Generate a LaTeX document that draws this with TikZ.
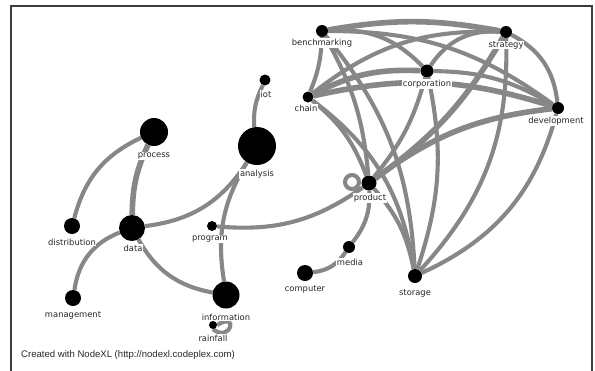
\documentclass[tikz,border=0pt]{standalone}
\usepackage{fontspec}
\newfontfamily\lblfont{DejaVu Sans}
\newfontfamily\credfont{Liberation Sans}
\usetikzlibrary{backgrounds}
\definecolor{edgegray}{RGB}{135,135,135}
\definecolor{framegray}{RGB}{60,60,60}
\tikzset{
  dot/.style={circle,fill=black,inner sep=0pt,minimum size=#1},
  lbl/.style={font=\lblfont\fontsize{8.4}{9}\selectfont,fill=white,inner sep=0.6bp,text=black!85},
  conn/.style={draw=edgegray,line width=4.1bp},
  heavy/.style={draw=edgegray,line width=5.6bp},
}
\begin{document}
\begin{tikzpicture}[x=1bp,y=-1bp]
\useasboundingbox (0,0) rectangle (595,370);
\draw[framegray,line width=1.6bp] (11,6) rectangle (592,385);
% dots
\node[dot=12bp] (benchmarking) at (322,31) {};
\node[dot=12bp] (strategy) at (506,32) {};
\node[dot=13bp] (corporation) at (427,71) {};
\node[dot=11bp] (chain) at (308,97) {};
\node[dot=12bp] (development) at (558,108) {};
\node[dot=15bp] (product) at (369,183) {};
\node[dot=11bp] (iot) at (265,80) {};
\node[dot=38bp] (analysis) at (257,146) {};
\node[dot=28bp] (process) at (154,132) {};
\node[dot=16bp] (distribution) at (72,226) {};
\node[dot=26bp] (data) at (132,228) {};
\node[dot=10bp] (program) at (212,226) {};
\node[dot=16bp] (management) at (73,298) {};
\node[dot=27bp] (information) at (226,295) {};
\node[dot=8bp] (rainfall) at (213,325) {};
\node[dot=12bp] (media) at (349,247) {};
\node[dot=16bp] (computer) at (305,273) {};
\node[dot=14bp] (storage) at (415,276) {};
% edges
\begin{pgfonlayer}{background}
\draw[conn] (process) to[bend right=25] (distribution);
\draw[heavy] (process) to[bend right=12] (data);
\draw[conn] (data) to[bend right=25] (analysis);
\draw[conn] (data) to[bend right=30] (management);
\draw[conn] (data) to[bend right=25] (information);
\draw[conn] (iot) to[bend right=15] (analysis);
\draw[conn] (analysis) to[bend right=20] (information);
\draw[conn] (program) to[bend right=20] (product);
\draw[conn] (product) to[bend left=20] (media);
\draw[conn] (media) to[bend left=25] (computer);
\draw[conn] (rainfall.east) .. controls +(22,-14) and +(18,14) .. (rainfall.south);
\draw[conn] (product) ++(-17,-1) circle[radius=7bp];
% clique
\draw[heavy] (benchmarking) to[bend left=10] (strategy);
\draw[conn] (benchmarking) to[bend left=18] (development);
\draw[conn] (benchmarking) to[bend left=25] (corporation);
\draw[conn] (benchmarking) to[bend left=10] (chain);
\draw[conn] (benchmarking) to[bend left=12] (product);
\draw[conn] (benchmarking) to[bend left=18] (storage);
\draw[conn] (strategy) to[bend right=20] (chain);
\draw[conn] (strategy) to[bend right=30] (corporation);
\draw[conn] (strategy) to[bend left=28] (development);
\draw[heavy] (strategy) to[bend left=12] (product);
\draw[conn] (strategy) to[bend left=22] (storage);
\draw[heavy] (corporation) to[bend right=15] (chain);
\draw[conn] (corporation) to[bend left=15] (development);
\draw[conn] (corporation) to[bend left=12] (product);
\draw[conn] (corporation) to[bend left=15] (storage);
\draw[heavy] (chain) to[bend left=15] (development);
\draw[conn] (chain) to[bend left=15] (product);
\draw[conn] (chain) to[bend left=22] (storage);
\draw[heavy] (development) to[bend right=15] (product);
\draw[conn] (development) to[bend left=25] (storage);
\draw[conn] (product) to[bend left=15] (storage);
\end{pgfonlayer}
% labels
\node[lbl] (l-benchmarking) at (322,43) {benchmarking};
\node[lbl] (l-strategy) at (506,45) {strategy};
\node[lbl] (l-corporation) at (427,84) {corporation};
\node[lbl] (l-chain) at (306,108) {chain};
\node[lbl] (l-development) at (556,121) {development};
\node[lbl] (l-product) at (370,198) {product};
\node[lbl] (l-iot) at (266,94) {iot};
\node[lbl] (l-analysis) at (257,174) {analysis};
\node[lbl] (l-process) at (154,156) {process};
\node[lbl] (l-distribution) at (72,242) {distribution};
\node[lbl] (l-data) at (133,248) {data};
\node[lbl] (l-program) at (210,239) {program};
\node[lbl] (l-management) at (73,315) {management};
\node[lbl] (l-information) at (226,317) {information};
\node[lbl] (l-rainfall) at (213,338) {rainfall};
\node[lbl] (l-media) at (350,262) {media};
\node[lbl] (l-computer) at (305,289) {computer};
\node[lbl] (l-storage) at (415,293) {storage};
\node[font=\credfont\fontsize{9.6}{11}\selectfont,anchor=west,inner sep=0pt,text=black!85] (credit) at (21,355) {Created with NodeXL (http://nodexl.codeplex.com)};
\end{tikzpicture}
\end{document}
